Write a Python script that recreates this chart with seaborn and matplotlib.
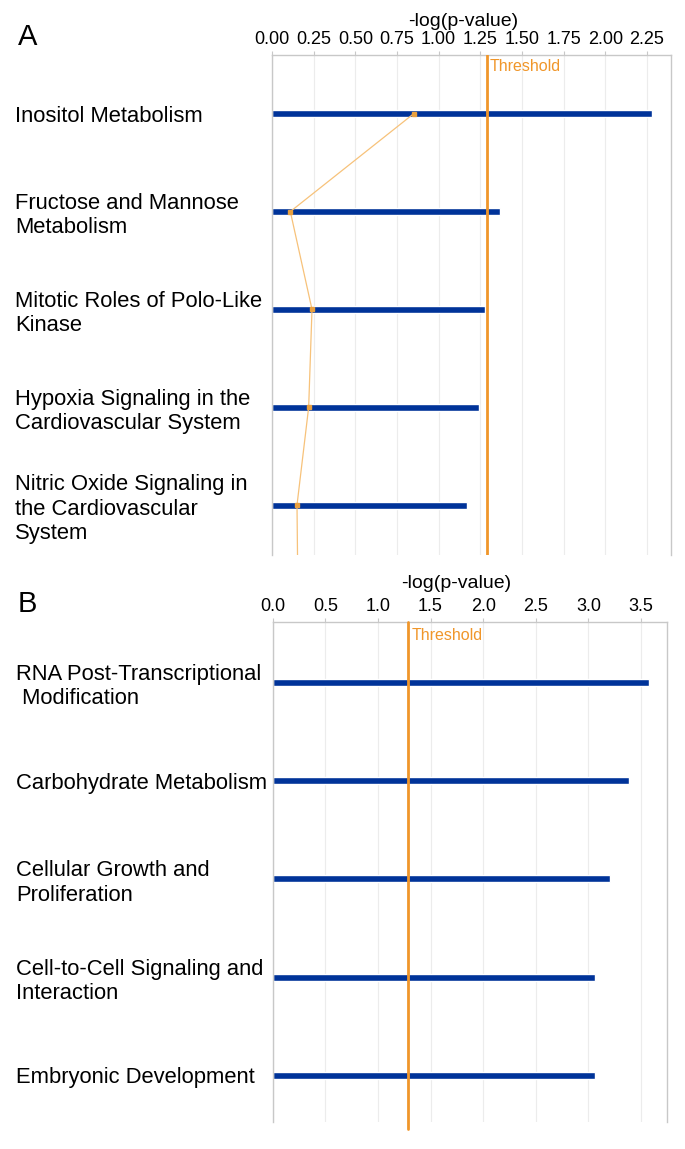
import numpy as np
import pandas as pd
import matplotlib
matplotlib.use("Agg")
import matplotlib.pyplot as plt
import seaborn as sns

# panel A: canonical pathways
pathways_a = ["Inositol Metabolism",
              "Fructose and Mannose\nMetabolism",
              "Mitotic Roles of Polo-Like\nKinase",
              "Hypoxia Signaling in the\nCardiovascular System",
              "Nitric Oxide Signaling in\nthe Cardiovascular\nSystem"]
logp_a = [2.28, 1.37, 1.28, 1.24, 1.17]
ratio_a = [0.85, 0.11, 0.24, 0.22, 0.15]
ratio_tail = 0.156   # line continues to the next (hidden) pathway
ticks_a = [0.0, 0.25, 0.5, 0.75, 1.0, 1.25, 1.5, 1.75, 2.0, 2.25]

# panel B: functions
functions_b = ["RNA Post-Transcriptional\n Modification",
               "Carbohydrate Metabolism",
               "Cellular Growth and\nProliferation",
               "Cell-to-Cell Signaling and\nInteraction",
               "Embryonic Development"]
logp_b = [3.58, 3.39, 3.21, 3.06, 3.06]
ticks_b = [0.0, 0.5, 1.0, 1.5, 2.0, 2.5, 3.0, 3.5]

threshold = 1.29

blue = "#003399"
orange = "#f0962a"
light_orange = "#f7c27a"
grid_grey = "#ececec"
spine_grey = "#c8c8c8"

sns.set_style("white")
plt.rcParams["font.family"] = ["Liberation Sans", "DejaVu Sans"]
plt.rcParams["text.color"] = "black"
plt.rcParams["axes.labelcolor"] = "black"
plt.rcParams["xtick.color"] = "black"
plt.rcParams["ytick.color"] = "black"

W, H = 685, 1149
fig = plt.figure(figsize=(W / 100, H / 100), dpi=100)


def px_axes(left, right, top, bottom):
    return fig.add_axes([left / W, 1 - bottom / H, (right - left) / W, (bottom - top) / H])


def style_panel(ax, cats, ticks, xmax, ylim, title_xy, fmt):
    ax.set_xlim(0, xmax)
    ax.set_ylim(*ylim)
    ax.xaxis.tick_top()
    ax.xaxis.set_label_position("top")
    ax.set_xticks(ticks)
    ax.set_xticklabels([fmt.format(t) for t in ticks])
    ax.tick_params(axis="x", length=3, width=0.8, color=spine_grey, pad=2,
                   labelsize=13, labelcolor="black")
    ax.set_xlabel("-log(p-value)", fontsize=14, color="black")
    ax.xaxis.set_label_coords(*title_xy)
    ax.xaxis.label.set_va("center")
    ax.set_ylabel("")
    ax.set_yticks(range(len(cats)))
    ax.set_yticklabels(cats, ha="left", fontsize=15.8, linespacing=1.2, color="black")
    ax.tick_params(axis="y", length=0, pad=185)
    ax.grid(axis="x", color=grid_grey, lw=0.8)
    ax.set_axisbelow(True)
    for side in ["left", "right", "top"]:
        ax.spines[side].set_color(spine_grey)
        ax.spines[side].set_linewidth(1.0)
    ax.spines["bottom"].set_visible(False)


#%% panel A
ax1 = px_axes(272, 671, 55, 555)
df_a = pd.DataFrame({"pathway": pathways_a, "logp": logp_a})
sns.barplot(data=df_a, x="logp", y="pathway", orient="h", color=blue,
            saturation=1, width=0.07, ax=ax1)
ax1.axvline(threshold, color=orange, lw=2, zorder=4)
ax1.annotate("Threshold", (threshold, -0.48), xytext=(2, 0),
             textcoords="offset points", color=orange, fontsize=11.5, va="center")
pos_a = np.arange(len(ratio_a) + 1)
ax1.plot(ratio_a + [ratio_tail], pos_a, color=light_orange, lw=0.9, zorder=5)
ax1.plot(ratio_a, pos_a[:-1], ls="none", marker="s", ms=3, color="#e8a040", zorder=6)
style_panel(ax1, pathways_a, ticks_a, 2.394, (4.51, -0.6), (0.479, 1.066), "{:.2f}")

fig.text(18 / W, 1 - 37 / H, "A", fontsize=21, va="center", ha="left")

#%% panel B
ax2 = px_axes(272.7, 667.3, 622.3, 1121.7)
df_b = pd.DataFrame({"function": functions_b, "logp": logp_b})
sns.barplot(data=df_b, x="logp", y="function", orient="h", color=blue,
            saturation=1, width=0.07, ax=ax2)
ax2.plot([threshold, threshold], [-0.61, 4.54], color=orange, lw=2, zorder=4,
         clip_on=False)
ax2.annotate("Threshold", (threshold, -0.48), xytext=(2, 0),
             textcoords="offset points", color=orange, fontsize=11.5, va="center")
style_panel(ax2, functions_b, ticks_b, 3.75, (4.47, -0.61), (0.466, 1.077), "{:.1f}")

fig.text(18 / W, 1 - 604 / H, "B", fontsize=21, va="center", ha="left")

fig.savefig("out.png", dpi=100)
